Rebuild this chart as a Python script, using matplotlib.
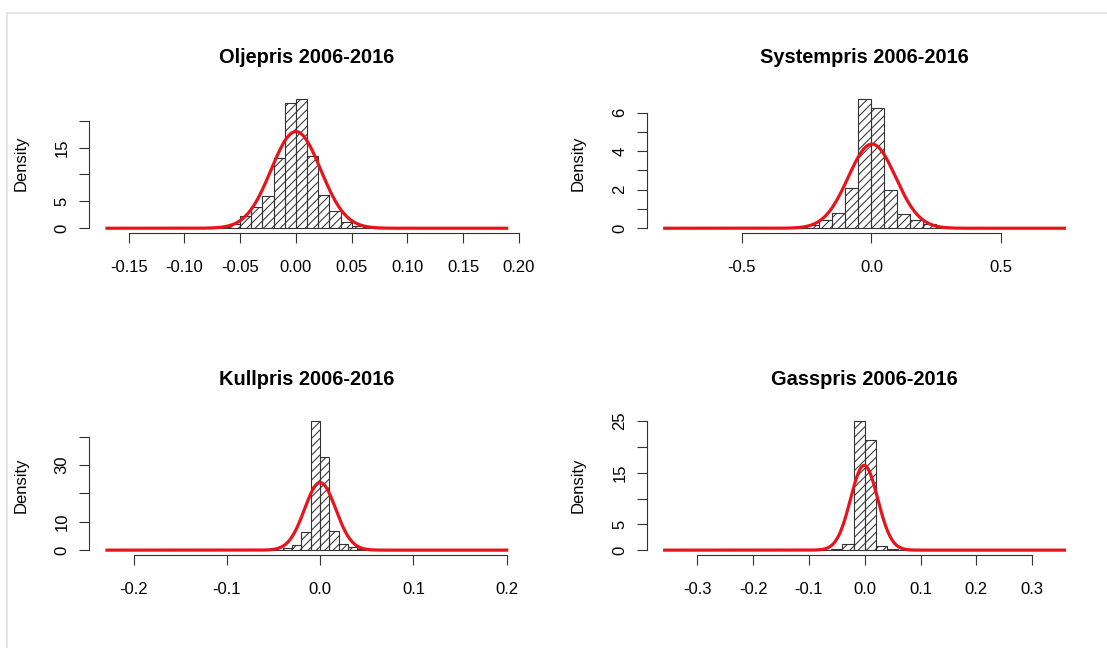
import numpy as np
import matplotlib
matplotlib.use("Agg")
import matplotlib.pyplot as plt
from matplotlib.lines import Line2D

plt.rcParams['font.family'] = ['Liberation Sans', 'DejaVu Sans']
plt.rcParams['hatch.linewidth'] = 0.75

W, H = 1107, 648

titles = ["Oljepris 2006-2016", "Systempris 2006-2016",
          "Kullpris 2006-2016", "Gasspris 2006-2016"]

# histogram breaks and densities
olje_breaks = [-0.08, -0.07, -0.06, -0.05, -0.04, -0.03, -0.02, -0.01, 0.00,
               0.01, 0.02, 0.03, 0.04, 0.05, 0.06, 0.07, 0.08]
olje_density = [0.1, 0.3, 0.7, 2.3, 4.0, 6.0, 13.0, 23.2, 24.0,
                13.5, 6.2, 3.2, 1.2, 0.4, 0.2, 0.1]

system_breaks = [-0.40, -0.35, -0.30, -0.25, -0.20, -0.15, -0.10, -0.05, 0.00,
                 0.05, 0.10, 0.15, 0.20, 0.25, 0.30, 0.35]
system_density = [0.03, 0.03, 0.05, 0.17, 0.43, 0.78, 2.08, 6.70,
                  6.23, 1.99, 0.73, 0.42, 0.20, 0.07, 0.03]

kull_breaks = [-0.05, -0.04, -0.03, -0.02, -0.01, 0.00, 0.01, 0.02, 0.03,
               0.04, 0.05]
kull_density = [0.2, 0.9, 1.8, 6.3, 45.5, 33.0, 6.7, 2.2, 1.0, 0.4]

gass_breaks = [-0.08, -0.06, -0.04, -0.02, 0.00, 0.02, 0.04, 0.06, 0.08]
gass_density = [0.1, 0.26, 1.17, 25.0, 21.4, 0.78, 0.2, 0.1]

# data range the normal curve covers, and its parameters
data_range = [(-0.1709, 0.1905), (-0.8022, 0.7493),
              (-0.2301, 0.2016), (-0.3613, 0.3607)]
norm_mean = [0.0, 0.002, 0.0, -0.001]
norm_sd = [0.0222, 0.0913, 0.01676, 0.0243]

xticks = [[-0.15, -0.10, -0.05, 0.00, 0.05, 0.10, 0.15, 0.20],
          [-0.5, 0.0, 0.5],
          [-0.2, -0.1, 0.0, 0.1, 0.2],
          [-0.3, -0.2, -0.1, 0.0, 0.1, 0.2, 0.3]]
xlabels = [["-0.15", "-0.10", "-0.05", "0.00", "0.05", "0.10", "0.15", "0.20"],
           ["-0.5", "0.0", "0.5"],
           ["-0.2", "-0.1", "0.0", "0.1", "0.2"],
           ["-0.3", "-0.2", "-0.1", "0.0", "0.1", "0.2", "0.3"]]
yticks = [[0, 5, 10, 15, 20], [0, 1, 2, 3, 4, 5, 6],
          [0, 10, 20, 30, 40], [0, 5, 10, 15, 20, 25]]
ylabels = [["0", "5", "", "15", ""], ["0", "", "2", "", "4", "", "6"],
           ["0", "10", "", "30", ""], ["0", "5", "", "15", "", "25"]]

breaks = [olje_breaks, system_breaks, kull_breaks, gass_breaks]
densities = [olje_density, system_density, kull_density, gass_density]

fig = plt.figure(figsize=(W / 100, H / 100), dpi=100)

# light screenshot frame
fig.add_artist(Line2D([7 / W, 7 / W], [0, 1 - 13 / H], color='#e2e2e2', lw=1.2))
fig.add_artist(Line2D([7 / W, 1], [1 - 13 / H, 1 - 13 / H], color='#e2e2e2', lw=1.2))

corners = [(89.3, 94.0), (647.0, 94.0), (89.3, 415.9), (647.0, 415.9)]
aw, ah = 435.1, 139.4

for i in range(4):
    left, top = corners[i]
    ax = fig.add_axes([left / W, 1 - (top + ah) / H, aw / W, ah / H])
    b = np.array(breaks[i])
    d = np.array(densities[i])
    ax.bar(b[:-1], d, width=np.diff(b), align='edge', fill=False,
           hatch='////', edgecolor='#333333', linewidth=0.8, zorder=2)

    lo, hi = data_range[i]
    xs = np.linspace(lo, hi, 600)
    ys = np.exp(-0.5 * ((xs - norm_mean[i]) / norm_sd[i]) ** 2) / (norm_sd[i] * np.sqrt(2 * np.pi))
    ax.plot(xs, ys, color='#e8141b', lw=2.3, zorder=3, solid_capstyle='butt')

    ext = 0.04 * (hi - lo)
    ax.set_xlim(lo - ext, hi + ext)
    ymax = d.max()
    ax.set_ylim(-0.04 * ymax, 1.04 * ymax)

    for s in ['top', 'right']:
        ax.spines[s].set_visible(False)
    ax.spines['left'].set_bounds(yticks[i][0], yticks[i][-1])
    ax.spines['bottom'].set_bounds(xticks[i][0], xticks[i][-1])
    for s in ['left', 'bottom']:
        ax.spines[s].set_linewidth(0.8)
        ax.spines[s].set_color('#333333')

    ax.set_xticks(xticks[i])
    ax.set_xticklabels(xlabels[i], fontsize=12)
    ax.set_yticks(yticks[i])
    ax.set_yticklabels(ylabels[i], fontsize=12, rotation=90, va='center')
    ax.tick_params(axis='both', length=7.2, width=0.8, color='#333333')
    ax.tick_params(axis='x', pad=12)
    ax.tick_params(axis='y', pad=7)

    ax.set_ylabel("Density", fontsize=12, labelpad=19)
    ax.set_title(titles[i], fontsize=14.4, fontweight='bold', pad=22.5)
    ax.patch.set_visible(False)

fig.savefig("out.png", dpi=100)
